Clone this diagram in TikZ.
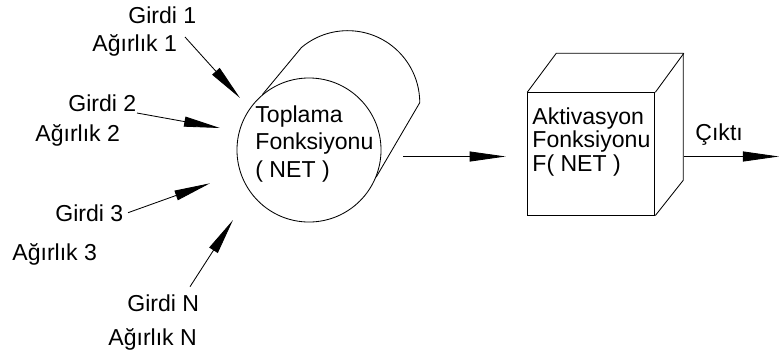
\documentclass[tikz,border=0pt]{standalone}
\usepackage{fontspec}
\setmainfont{Liberation Sans}
\usetikzlibrary{arrows.meta, positioning, calc}

\begin{document}
\begin{tikzpicture}[x=0.025cm, y=-0.025cm, line width=0.6pt,
    txt/.style={anchor=base west, inner sep=0pt, font=\fontsize{16.4}{19.7}\selectfont},
    arr/.style={draw, black, -{Triangle[length=0.9cm, width=0.25cm]}},
    adder/.style={circle, draw, black, minimum size=3.6cm, inner sep=0pt},
    facebox/.style={rectangle, draw, black, minimum width=3.18cm, minimum height=3.06cm, inner sep=0pt}]

    \useasboundingbox (0,0) rectangle (779,358);

    % Summing cylinder (back outline first, then the front face)
    \node[adder] (sum) at (309,150) {};
    \draw (sum.130) -- ++(39,-47) arc[start angle=130, end angle=0, radius=1.8cm] -- (sum.-22);
    \node[anchor=north west, inner sep=0pt, align=left, font=\fontsize{16.4}{19.6}\selectfont]
        (sumtext) at (255,105.2) {Toplama\\Fonksiyonu\\( NET )};

    % Activation cube
    \node[facebox] (act) at (591.3,153.9) {};
    \draw (act.north west) -- ++(29,-39) -- ++(127,0) -- ++(0,127) -- (act.south east);
    \draw (act.north east) -- ++(28.5,-39);
    \node[anchor=north west, inner sep=0pt, align=left, font=\fontsize{16.4}{16.6}\selectfont]
        (acttext) at (532,107.5) {Aktivasyon\\Fonksiyonu\\F( NET )};

    % Inputs and weights
    \node[txt] (g1) at (128,23) {Girdi 1};
    \node[txt] (w1) at (92,51.7) {Ağırlık 1};
    \node[txt] (g2) at (68,111.7) {Girdi 2};
    \node[txt] (w2) at (35,141.7) {Ağırlık 2};
    \node[txt] (g3) at (55,221.7) {Girdi 3};
    \node[txt] (w3) at (12,260) {Ağırlık 3};
    \node[txt] (gn) at (127,311.7) {Girdi N};
    \node[txt] (wn) at (108,345) {Ağırlık N};
    \node[txt] (out) at (695,140) {Çıktı};

    % Arrow ends
    \coordinate (in1) at (185,37);
    \coordinate (tip1) at (240,98);
    \coordinate (in2) at (137,113);
    \coordinate (tip2) at (220,128);
    \coordinate (in3) at (128,212.7);
    \coordinate (tip3) at (210,183.3);
    \coordinate (inn) at (190,286.7);
    \coordinate (tipn) at (233,220);
    \coordinate (net) at (403,156.5);
    \coordinate (res) at (683.5,156.5);
    \coordinate (tipout) at (779,156.5);

    % Connecting inputs to the sum
    \draw[arr] (in1) -- (tip1);
    \draw[arr] (in2) -- (tip2);
    \draw[arr] (in3) -- (tip3);
    \draw[arr] (inn) -- (tipn);

    % Sum to activation, activation to output
    \draw[arr, shorten >=0.54cm] (net) -- (act.west |- net);
    \draw[arr] (res) -- (tipout);

\end{tikzpicture}
\end{document}
